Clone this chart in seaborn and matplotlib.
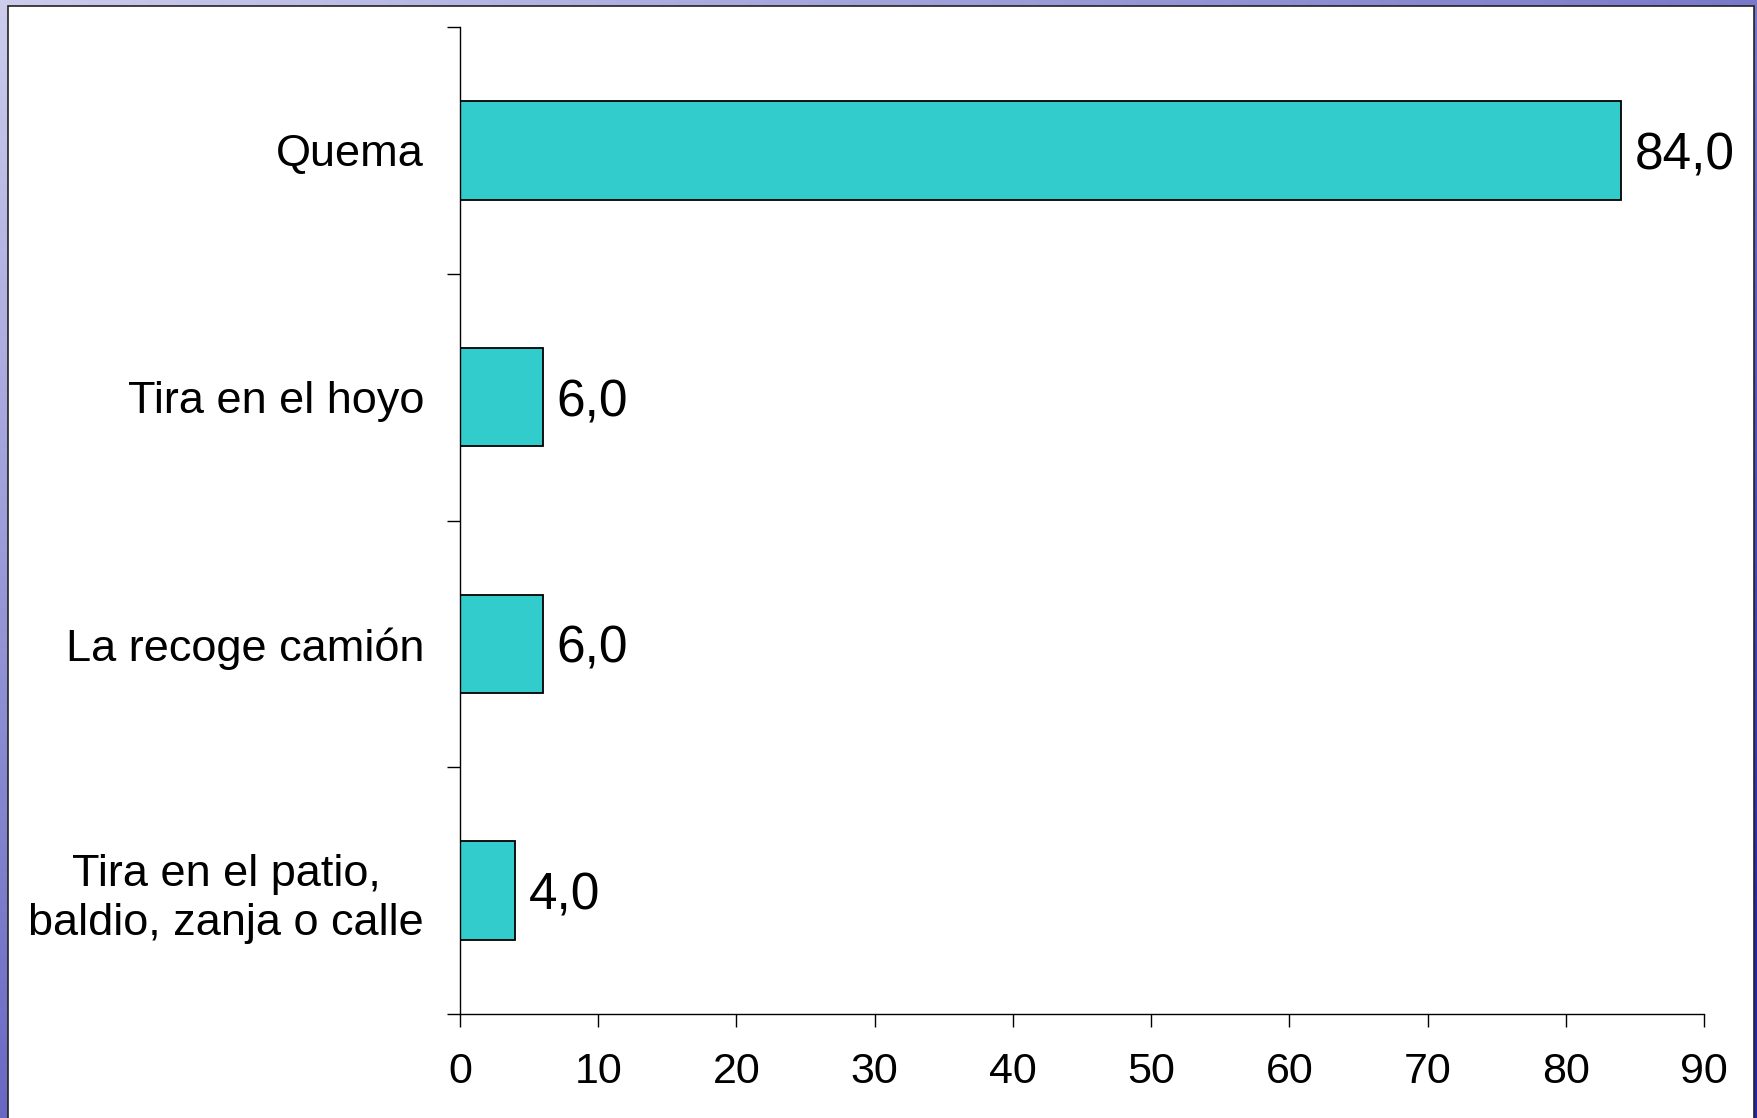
import numpy as np
import pandas as pd
import matplotlib
matplotlib.use("Agg")
import matplotlib.pyplot as plt
import seaborn as sns
from matplotlib.patches import Rectangle

# Data
categories = ["Quema", "Tira en el hoyo", "La recoge camión",
              "Tira en el patio,\nbaldio, zanja o calle"]
values = [84.0, 6.0, 6.0, 4.0]
x_ticks = [0, 10, 20, 30, 40, 50, 60, 70, 80, 90]

df = pd.DataFrame({"categoria": categories, "valor": values})

sns.set_style("white")
plt.rcParams["font.family"] = ["Liberation Sans", "DejaVu Sans"]
plt.rcParams["text.color"] = "black"
plt.rcParams["xtick.color"] = "black"
plt.rcParams["ytick.color"] = "black"

W, H = 1757, 1118
fig = plt.figure(figsize=(W / 100, H / 100), dpi=100)

# blue gradient frame behind the white slide
bg = fig.add_axes([0, 0, 1, 1], zorder=-10)
yy, xx = np.mgrid[0:1:200j, 0:1:200j]
t = np.clip(0.6 * yy + 0.5 * xx, 0, 1)
light = np.array([0.80, 0.80, 0.93])
dark = np.array([0.15, 0.15, 0.66])
grad = light[None, None, :] * (1 - t[..., None]) + dark[None, None, :] * t[..., None]
bg.imshow(grad, extent=[0, 1, 0, 1], aspect="auto", origin="upper")
bg.set_axis_off()
bg.add_patch(Rectangle((8 / W, -0.01), (W - 11) / W, 1.01 - 6 / H,
                       facecolor="white", edgecolor="#222222", linewidth=1.2,
                       transform=bg.transAxes))

ax = fig.add_axes([460 / W, 1 - 1014 / H, (1704 - 460) / W, (1014 - 27) / H])
ax.set_facecolor("none")

sns.barplot(data=df, y="categoria", x="valor", orient="h", color="#33CCCC",
            saturation=1, width=0.4, edgecolor="black", linewidth=1.3, ax=ax)

labels = ax.bar_label(ax.containers[0],
                      labels=[f"{v:.1f}".replace(".", ",") for v in values],
                      padding=10, fontsize=37, color="black")
for txt in labels:
    txt.xyann = (10, -4)

ax.set_xlim(0, 90)
ax.set_ylim(len(categories) - 0.5, -0.5)
ax.set_xticks(x_ticks)
ax.set_xticklabels([str(v) for v in x_ticks], fontsize=31)
ax.set_yticks(range(len(categories)))
ax.set_yticklabels(categories, fontsize=32.5, multialignment="center",
                   linespacing=1.25)
ax.set_yticks(np.arange(-0.5, len(categories)), minor=True)
ax.tick_params(axis="y", which="major", length=0, pad=26)
ax.tick_params(axis="y", which="minor", length=9.5, width=1, color="black",
               direction="out", left=True)
ax.tick_params(axis="x", which="major", length=9.5, width=1, color="black",
               direction="out", bottom=True, pad=18)
ax.set_xlabel("")
ax.set_ylabel("")

for side in ["top", "right"]:
    ax.spines[side].set_visible(False)
for side in ["left", "bottom"]:
    ax.spines[side].set_color("black")
    ax.spines[side].set_linewidth(1)

fig.savefig("out.png", dpi=100)
